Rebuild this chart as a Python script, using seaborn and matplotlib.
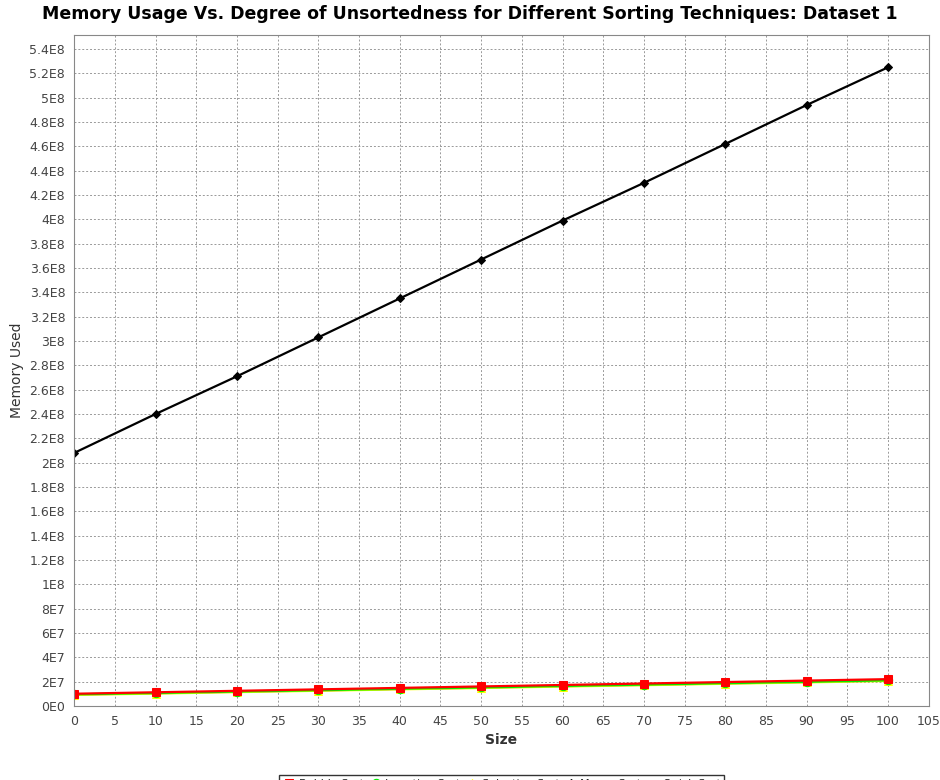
import numpy as np
import pandas as pd
import matplotlib
matplotlib.use("Agg")
import matplotlib.pyplot as plt
import seaborn as sns
from matplotlib.ticker import FuncFormatter, MultipleLocator

sizes = [0, 10, 20, 30, 40, 50, 60, 70, 80, 90, 100]
bubble = [1.00e7, 1.12e7, 1.24e7, 1.36e7, 1.48e7, 1.60e7, 1.72e7, 1.84e7, 1.96e7, 2.08e7, 2.20e7]
insertion = [0.95e7, 1.06e7, 1.18e7, 1.29e7, 1.41e7, 1.52e7, 1.64e7, 1.75e7, 1.87e7, 1.98e7, 2.10e7]
selection = [0.90e7, 1.01e7, 1.13e7, 1.24e7, 1.36e7, 1.47e7, 1.59e7, 1.70e7, 1.82e7, 1.93e7, 2.05e7]
merge = [2.08e8, 2.40e8, 2.71e8, 3.03e8, 3.35e8, 3.67e8, 3.99e8, 4.30e8, 4.62e8, 4.94e8, 5.25e8]
quick = [0.93e7, 1.04e7, 1.16e7, 1.27e7, 1.39e7, 1.50e7, 1.62e7, 1.73e7, 1.85e7, 1.96e7, 2.08e7]

series = {"Bubble Sort": bubble, "Insertion Sort": insertion, "Selection Sort": selection,
          "Merge Sort": merge, "Quick Sort": quick}
df = pd.DataFrame([(n, s, v) for n, vals in series.items() for s, v in zip(sizes, vals)],
                  columns=["name", "Size", "Memory Used"])

palette = {"Bubble Sort": "#ff0000", "Insertion Sort": "#00ee00", "Selection Sort": "#ffff00",
           "Merge Sort": "#000000", "Quick Sort": "#0000ff"}
markers = {"Bubble Sort": "s", "Insertion Sort": "o", "Selection Sort": "^",
           "Merge Sort": "D", "Quick Sort": "_"}
draw_order = ["Quick Sort", "Selection Sort", "Insertion Sort", "Merge Sort", "Bubble Sort"]

sns.set_style("white")
plt.rcParams['font.family'] = ['DejaVu Sans']
fig = plt.figure(figsize=(9.4, 7.8), dpi=100)
ax = fig.add_axes([0.079, 0.095, 0.909, 0.86])

for name in draw_order:
    sub = df[df.name == name]
    sns.lineplot(data=sub, x="Size", y="Memory Used", ax=ax, color=palette[name],
                 marker=markers[name], markersize=6 if name != "Merge Sort" else 4,
                 markeredgecolor=palette[name], linewidth=1.6, label=name)

ax.set_xlim(0, 105)
ax.set_ylim(0, 5.515e8)
ax.xaxis.set_major_locator(MultipleLocator(5))
ax.yaxis.set_major_locator(MultipleLocator(2e7))

def sci(v, pos):
    if v == 0:
        return "0E0"
    e = int(np.floor(np.log10(abs(v)) + 1e-9))
    m = v / 10 ** e
    ms = ("%.1f" % m).rstrip("0").rstrip(".")
    return f"{ms}E{e}"

ax.yaxis.set_major_formatter(FuncFormatter(sci))
ax.tick_params(labelsize=9, colors="#444444", length=3)
ax.grid(True, color="#999999", linestyle=(0, (2, 2)), linewidth=0.7)
for s in ax.spines.values():
    s.set_color("#888888")
ax.set_xlabel("Size", fontsize=10, fontweight="bold", color="#333333")
ax.set_ylabel("Memory Used", fontsize=10, color="#333333")
fig.suptitle("Memory Usage Vs. Degree of Unsortedness for Different Sorting Techniques: Dataset 1",
             fontsize=12.5, fontweight="bold", y=0.993, color="black")

handles, labels = ax.get_legend_handles_labels()
order = ["Bubble Sort", "Insertion Sort", "Selection Sort", "Merge Sort", "Quick Sort"]
hmap = dict(zip(labels, handles))
ax.legend([hmap[o] for o in order], order, loc="upper center", bbox_to_anchor=(0.5, -0.095),
          ncol=5, fontsize=8, frameon=True, fancybox=False, edgecolor="black",
          handlelength=1.3, handletextpad=0.2, columnspacing=0.4, borderpad=0.3)

fig.savefig("out.png", dpi=100)
